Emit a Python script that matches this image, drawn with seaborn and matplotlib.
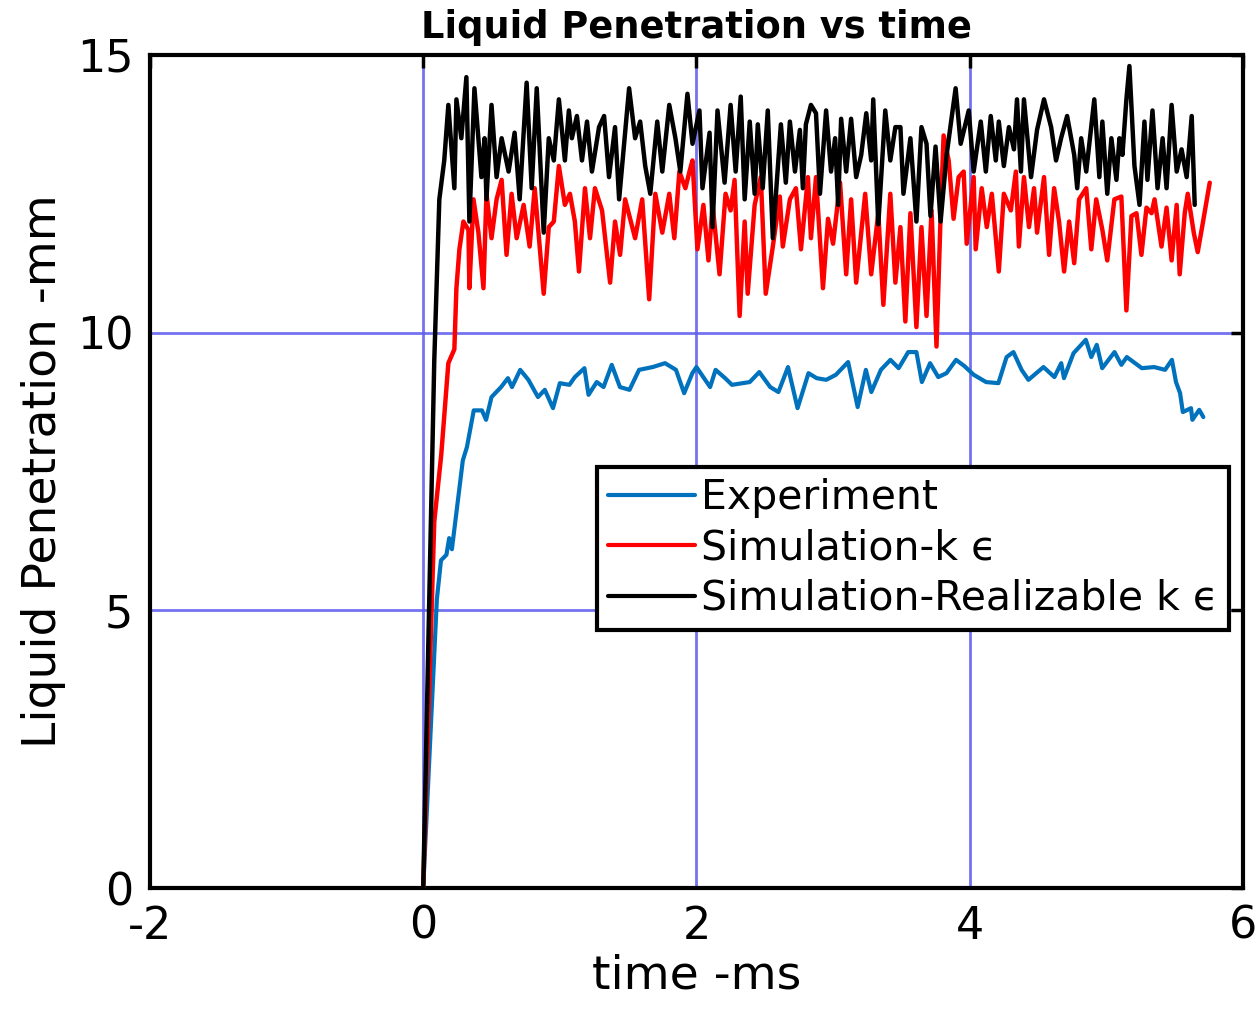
import numpy as np
import pandas as pd
import matplotlib
matplotlib.use("Agg")
import matplotlib.pyplot as plt
import seaborn as sns

# ---------------- data ----------------
exp_t = [0.0, 0.10, 0.13, 0.17, 0.19, 0.21, 0.24, 0.29, 0.32, 0.37, 0.43, 0.46, 0.50, 0.57, 0.62,
         0.65, 0.71, 0.77, 0.84, 0.89, 0.95, 1.00, 1.07, 1.11, 1.18, 1.21, 1.27, 1.32, 1.38, 1.44,
         1.51, 1.58, 1.68, 1.77, 1.85, 1.91, 1.97, 2.00, 2.10, 2.14, 2.21, 2.26, 2.39, 2.46, 2.54,
         2.60, 2.67, 2.74, 2.82, 2.88, 2.95, 3.02, 3.11, 3.18, 3.24, 3.28, 3.35, 3.42, 3.48, 3.55,
         3.61, 3.65, 3.71, 3.77, 3.83, 3.90, 3.96, 4.03, 4.12, 4.21, 4.27, 4.32, 4.38, 4.43, 4.54,
         4.62, 4.67, 4.69, 4.76, 4.85, 4.89, 4.93, 4.97, 5.06, 5.11, 5.15, 5.26, 5.35, 5.43, 5.48,
         5.51, 5.54, 5.56, 5.62, 5.63, 5.68, 5.71]
exp_y = [0.0, 5.2, 5.9, 6.0, 6.3, 6.1, 6.7, 7.7, 7.94, 8.6, 8.6, 8.43, 8.84, 9.02, 9.18,
         9.02, 9.33, 9.15, 8.84, 8.97, 8.64, 9.09, 9.06, 9.2, 9.36, 8.88, 9.11, 9.02, 9.42, 9.02,
         8.97, 9.33, 9.38, 9.45, 9.33, 8.91, 9.27, 9.38, 9.02, 9.33, 9.18, 9.06, 9.11, 9.29, 9.02,
         8.93, 9.38, 8.64, 9.27, 9.18, 9.15, 9.24, 9.47, 8.66, 9.33, 8.93, 9.33, 9.51, 9.36, 9.65,
         9.65, 9.11, 9.45, 9.2, 9.27, 9.51, 9.4, 9.24, 9.11, 9.09, 9.56, 9.65, 9.33, 9.15, 9.38,
         9.2, 9.45, 9.18, 9.63, 9.87, 9.56, 9.78, 9.36, 9.65, 9.42, 9.56, 9.36, 9.38, 9.33, 9.51,
         9.11, 8.91, 8.57, 8.64, 8.43, 8.61, 8.48]

ke_t = [0.0, 0.081, 0.132, 0.184, 0.228, 0.243, 0.265, 0.294, 0.331, 0.338, 0.368, 0.404, 0.441,
        0.463, 0.500, 0.537, 0.574, 0.610, 0.647, 0.684, 0.735, 0.779, 0.816, 0.882, 0.919, 0.956,
        0.993, 1.037, 1.074, 1.110, 1.140, 1.184, 1.221, 1.257, 1.309, 1.368, 1.404, 1.441, 1.478,
        1.551, 1.603, 1.654, 1.699, 1.750, 1.801, 1.838, 1.875, 1.919, 1.949, 1.971, 2.007, 2.051,
        2.088, 2.118, 2.169, 2.213, 2.250, 2.279, 2.316, 2.353, 2.375, 2.426, 2.471, 2.507, 2.559,
        2.610, 2.632, 2.684, 2.728, 2.765, 2.816, 2.838, 2.875, 2.926, 2.963, 3.000, 3.051, 3.096,
        3.132, 3.169, 3.235, 3.279, 3.331, 3.368, 3.419, 3.456, 3.493, 3.529, 3.566, 3.610, 3.647,
        3.684, 3.721, 3.757, 3.787, 3.809, 3.846, 3.882, 3.919, 3.956, 3.978, 4.029, 4.044, 4.088,
        4.125, 4.162, 4.213, 4.250, 4.301, 4.338, 4.360, 4.397, 4.434, 4.471, 4.493, 4.544, 4.581,
        4.618, 4.654, 4.691, 4.728, 4.765, 4.801, 4.853, 4.890, 4.926, 4.971, 5.007, 5.059, 5.110,
        5.147, 5.184, 5.221, 5.257, 5.294, 5.331, 5.353, 5.404, 5.441, 5.478, 5.515, 5.537, 5.574,
        5.596, 5.640, 5.669, 5.706, 5.757]
ke_y = [0.0, 6.6, 7.8, 9.45, 9.7, 10.8, 11.5, 12.0, 11.85, 10.8, 12.4, 11.8, 10.8,
        12.5, 11.7, 12.4, 12.75, 11.4, 12.5, 11.7, 12.3, 11.55, 12.6, 10.7, 11.9, 12.0,
        13.0, 12.3, 12.5, 12.0, 11.1, 12.6, 11.7, 12.6, 12.2, 10.9, 12.0, 11.4, 12.4,
        11.7, 12.4, 10.6, 12.5, 11.8, 12.5, 11.7, 12.9, 12.6, 12.9, 13.1, 11.5, 12.3,
        11.3, 12.3, 11.05, 12.5, 12.2, 12.75, 10.3, 12.0, 10.7, 12.3, 12.8, 10.7, 11.55,
        12.45, 11.55, 12.4, 12.6, 11.5, 12.8, 11.7, 12.8, 10.8, 12.05, 11.6, 12.7, 11.05,
        12.4, 10.9, 12.5, 11.05, 12.15, 10.5, 12.5, 10.9, 11.9, 10.2, 12.15, 10.1, 11.9,
        10.3, 12.2, 9.75, 12.1, 13.55, 13.1, 12.05, 12.8, 12.9, 11.6, 12.8, 11.5, 12.6,
        11.9, 12.5, 11.1, 12.5, 12.2, 12.9, 11.55, 12.8, 11.9, 12.6, 11.8, 12.8, 11.4,
        12.6, 12.0, 11.1, 12.0, 11.25, 12.4, 12.6, 11.5, 12.4, 11.85, 11.3, 12.4, 12.45,
        10.4, 12.1, 12.15, 11.4, 12.25, 12.15, 12.4, 11.55, 12.25, 11.3, 12.3, 11.05, 12.15,
        12.5, 11.8, 11.45, 11.97, 12.7]

rke_t = [0.0, 0.081, 0.118, 0.154, 0.184, 0.228, 0.243, 0.279, 0.316, 0.338, 0.375, 0.426, 0.449,
         0.463, 0.500, 0.537, 0.574, 0.625, 0.669, 0.706, 0.757, 0.794, 0.831, 0.882, 0.919, 0.956,
         0.993, 1.037, 1.066, 1.088, 1.125, 1.162, 1.199, 1.235, 1.287, 1.324, 1.360, 1.404, 1.434,
         1.507, 1.551, 1.588, 1.625, 1.662, 1.713, 1.750, 1.801, 1.846, 1.882, 1.934, 1.971, 2.022,
         2.044, 2.096, 2.118, 2.154, 2.206, 2.250, 2.287, 2.324, 2.353, 2.390, 2.426, 2.449, 2.485,
         2.522, 2.559, 2.618, 2.654, 2.684, 2.721, 2.757, 2.779, 2.801, 2.838, 2.875, 2.904, 2.949,
         2.985, 3.015, 3.037, 3.059, 3.096, 3.132, 3.169, 3.206, 3.243, 3.279, 3.294, 3.331, 3.382,
         3.419, 3.456, 3.493, 3.515, 3.566, 3.610, 3.647, 3.684, 3.713, 3.750, 3.787, 3.831, 3.897,
         3.934, 3.993, 4.029, 4.081, 4.118, 4.154, 4.191, 4.213, 4.250, 4.287, 4.324, 4.346, 4.375,
         4.397, 4.449, 4.493, 4.544, 4.596, 4.632, 4.669, 4.713, 4.765, 4.787, 4.816, 4.853, 4.912,
         4.949, 4.971, 5.007, 5.037, 5.074, 5.096, 5.118, 5.147, 5.169, 5.206, 5.243, 5.279, 5.301,
         5.338, 5.375, 5.412, 5.441, 5.478, 5.515, 5.551, 5.588, 5.625, 5.647]
rke_y = [0.0, 9.5, 12.4, 13.1, 14.1, 12.6, 14.2, 13.5, 14.6, 12.0, 14.4, 12.8, 13.5,
         12.4, 14.1, 12.8, 13.5, 12.9, 13.6, 12.4, 14.5, 12.6, 14.4, 11.8, 13.5, 13.1,
         14.2, 13.1, 14.0, 13.5, 13.9, 13.1, 13.8, 12.9, 13.7, 13.9, 12.8, 13.7, 12.4,
         14.4, 13.5, 13.8, 13.0, 12.5, 13.8, 12.9, 14.1, 13.5, 12.9, 14.3, 13.4, 14.0,
         12.6, 13.6, 11.9, 14.0, 12.7, 14.1, 12.9, 14.25, 12.4, 13.8, 12.5, 13.75, 12.6,
         14.0, 11.7, 13.75, 12.7, 13.8, 12.9, 13.65, 12.6, 13.75, 14.1, 13.95, 12.5, 14.0,
         12.9, 13.5, 12.3, 13.85, 12.9, 13.85, 12.8, 13.2, 13.95, 13.1, 14.2, 11.95, 14.0,
         13.1, 13.7, 13.7, 12.5, 13.5, 12.0, 13.7, 13.4, 12.1, 13.35, 12.0, 13.2, 14.4,
         13.4, 14.0, 12.9, 13.8, 12.9, 13.9, 13.1, 13.8, 13.0, 13.7, 13.3, 14.2, 12.9,
         14.2, 12.8, 13.65, 14.2, 13.7, 13.1, 13.5, 13.9, 13.2, 12.6, 13.5, 12.9, 14.2,
         12.8, 13.8, 12.5, 13.5, 12.75, 13.5, 13.2, 14.2, 14.8, 13.0, 12.3, 13.8, 12.75,
         14.0, 12.6, 13.5, 12.6, 14.1, 12.9, 13.3, 12.8, 13.9, 12.3]

series_names = ["Experiment", "Simulation-k ϵ", "Simulation-Realizable k ϵ"]
series_colors = ["#0072BD", "#FF0000", "#000000"]
x_ticks = [-2, 0, 2, 4, 6]
y_ticks = [0, 5, 10, 15]

# ---------------- plotting ----------------
sns.set_style("white")
plt.rcParams['font.family'] = ['DejaVu Sans']
plt.rcParams['axes.unicode_minus'] = False
plt.rcParams['text.color'] = 'black'
plt.rcParams['axes.labelcolor'] = 'black'
plt.rcParams['xtick.color'] = 'black'
plt.rcParams['ytick.color'] = 'black'

fig = plt.figure(figsize=(12.56, 10.17), dpi=100)
ax = fig.add_axes([0.1194, 0.1268, 0.8702, 0.8192])

ts = [exp_t, ke_t, rke_t]
ys = [exp_y, ke_y, rke_y]
widths = [3.0, 3.2, 3.2]
for t, y, name, col, lw in zip(ts, ys, series_names, series_colors, widths):
    df = pd.DataFrame({"t": t, "y": y})
    sns.lineplot(data=df, x="t", y="y", ax=ax, color=col, linewidth=lw,
                 sort=False, estimator=None, label=name, zorder=3)

ax.set_xlim(-2, 6)
ax.set_ylim(0, 15)
ax.set_xticks(x_ticks)
ax.set_yticks(y_ticks)
ax.set_xticklabels([str(v) for v in x_ticks])
ax.set_yticklabels([str(v) for v in y_ticks])
ax.grid(True, color="#5a5aee", linewidth=2.0, alpha=0.85)
ax.set_axisbelow(True)
for s in ax.spines.values():
    s.set_color("black")
    s.set_linewidth(3)
ax.tick_params(axis="both", direction="in", length=9, width=2.5, labelsize=32,
               top=True, right=True, pad=12, colors="black")
ax.set_xlabel("time -ms", fontsize=34, labelpad=4, color="black")
ax.set_ylabel("Liquid Penetration -mm", fontsize=34, labelpad=8, color="black")
ax.set_title("Liquid Penetration vs time", fontsize=26.5, fontweight="bold", pad=12, color="black")

leg = ax.legend(loc="upper left", bbox_to_anchor=(0.409, 0.5055), fontsize=29.5,
                frameon=True, fancybox=False, handlelength=2.1, handletextpad=0.15,
                borderpad=0.28, labelspacing=0.25, borderaxespad=0)
leg.get_frame().set_edgecolor("black")
leg.get_frame().set_linewidth(3)
leg.get_frame().set_alpha(1)
for txt in leg.get_texts():
    txt.set_color("black")
for h in leg.get_lines():
    h.set_linewidth(3)

fig.savefig("out.png", dpi=100, facecolor="white")
